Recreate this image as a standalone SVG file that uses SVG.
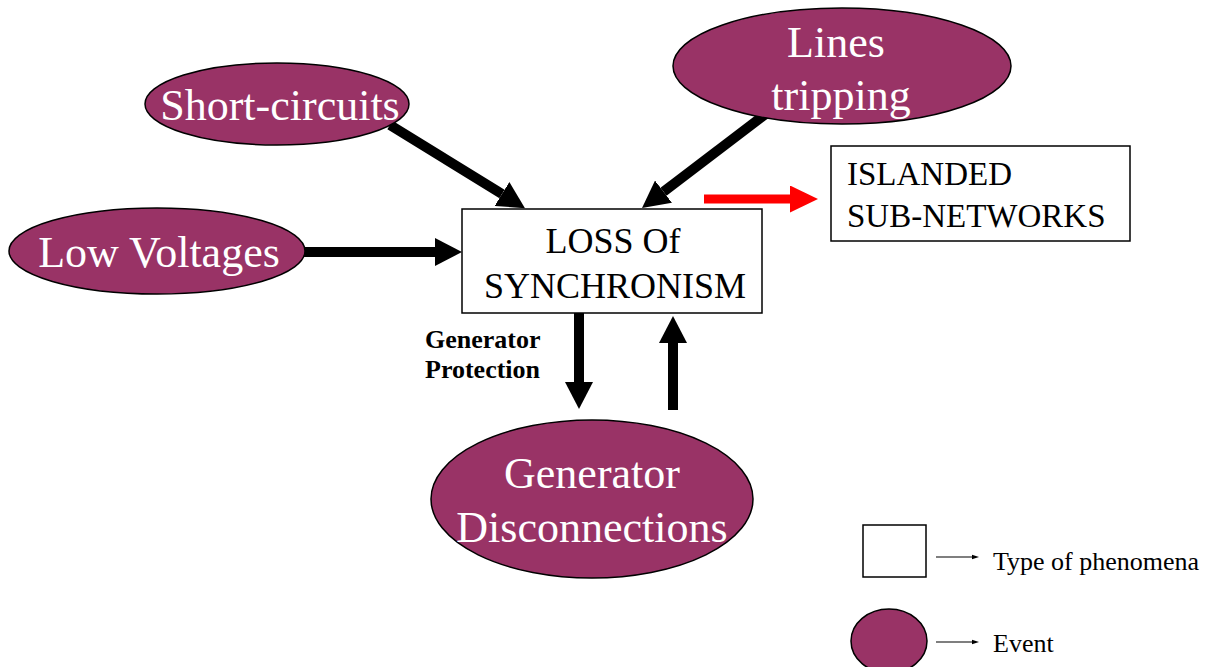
<svg xmlns="http://www.w3.org/2000/svg" width="1209" height="667" viewBox="0 0 1209 667">
  <style>
    .event { fill: #993366; stroke: #000; stroke-width: 1.5; }
    .phen { fill: #fff; stroke: #000; stroke-width: 1.5; }
    .evt-txt { font-family: "Liberation Serif", "Times New Roman", serif; font-size: 44px; fill: #fff; text-anchor: middle; }
    .phen-txt { font-family: "Liberation Serif", "Times New Roman", serif; fill: #000; }
    .lbl { font-family: "Liberation Serif", "Times New Roman", serif; font-weight: bold; font-size: 26px; fill: #000; }
    .legend-txt { font-family: "Liberation Serif", "Times New Roman", serif; font-size: 26px; fill: #000; }
    .arrow { stroke: #000; stroke-width: 10; fill: none; marker-end: url(#head); }
    .arrow-red { stroke: #ff0000; stroke-width: 9; fill: none; marker-end: url(#head-red); }
    .thin { stroke: #000; stroke-width: 1.2; fill: none; marker-end: url(#head-small); }
  </style>
  <defs>
    <marker id="head" markerUnits="userSpaceOnUse" markerWidth="28" markerHeight="28" refX="0" refY="14" orient="auto">
      <path d="M0,0 L27,14 L0,28 Z" fill="#000"/>
    </marker>
    <marker id="head-red" markerUnits="userSpaceOnUse" markerWidth="28" markerHeight="28" refX="0" refY="13.5" orient="auto">
      <path d="M0,0 L28,13.5 L0,27 Z" fill="#ff0000"/>
    </marker>
    <marker id="head-small" markerUnits="userSpaceOnUse" markerWidth="7" markerHeight="6" refX="0" refY="3" orient="auto">
      <path d="M0,0.8 L7,3 L0,5.2 Z" fill="#000"/>
    </marker>
  </defs>

  <!-- connectors -->
  <g id="connectors">
    <line class="arrow" x1="390" y1="125" x2="502" y2="194"/>
    <line class="arrow" x1="767" y1="113" x2="663.5" y2="191.7"/>
    <line class="arrow" x1="304" y1="252" x2="435" y2="252"/>
    <line class="arrow-red" x1="704" y1="199" x2="790" y2="199"/>
    <line class="arrow" x1="579" y1="313" x2="579" y2="382"/>
    <line class="arrow" x1="673" y1="410" x2="673" y2="343"/>
  </g>

  <!-- events -->
  <g id="short-circuits">
    <ellipse class="event" cx="277" cy="104" rx="132" ry="41"/>
    <text class="evt-txt" x="280" y="120">Short-circuits</text>
  </g>
  <g id="lines-tripping">
    <ellipse class="event" cx="842" cy="66" rx="169" ry="58"/>
    <text class="evt-txt" x="836" y="57">Lines</text>
    <text class="evt-txt" x="841" y="110">tripping</text>
  </g>
  <g id="low-voltages">
    <ellipse class="event" cx="157" cy="251" rx="148" ry="43"/>
    <text class="evt-txt" x="159" y="267">Low Voltages</text>
  </g>
  <g id="generator-disconnections">
    <ellipse class="event" cx="592" cy="499" rx="161" ry="79"/>
    <text class="evt-txt" x="592" y="488">Generator</text>
    <text class="evt-txt" x="592" y="542">Disconnections</text>
  </g>

  <!-- phenomena -->
  <g id="loss-of-synchronism">
    <rect class="phen" x="462" y="209" width="300" height="104"/>
    <text class="phen-txt" x="613" y="253" font-size="36" text-anchor="middle">LOSS Of</text>
    <text class="phen-txt" x="615" y="298" font-size="36" text-anchor="middle">SYNCHRONISM</text>
  </g>
  <g id="islanded-sub-networks">
    <rect class="phen" x="831" y="146" width="299" height="95"/>
    <text class="phen-txt" x="847" y="185" font-size="33">ISLANDED</text>
    <text class="phen-txt" x="847" y="227" font-size="33">SUB-NETWORKS</text>
  </g>

  <!-- connector label -->
  <g id="generator-protection-label">
    <text class="lbl" x="425" y="348">Generator</text>
    <text class="lbl" x="425" y="378">Protection</text>
  </g>

  <!-- legend -->
  <g id="legend">
    <rect class="phen" x="863" y="525" width="63" height="52"/>
    <line class="thin" x1="936" y1="557" x2="972" y2="557"/>
    <text class="legend-txt" x="993" y="570">Type of phenomena</text>
    <ellipse class="event" cx="889" cy="641" rx="38" ry="32"/>
    <line class="thin" x1="936" y1="642" x2="972" y2="642"/>
    <text class="legend-txt" x="993" y="652">Event</text>
  </g>
</svg>
